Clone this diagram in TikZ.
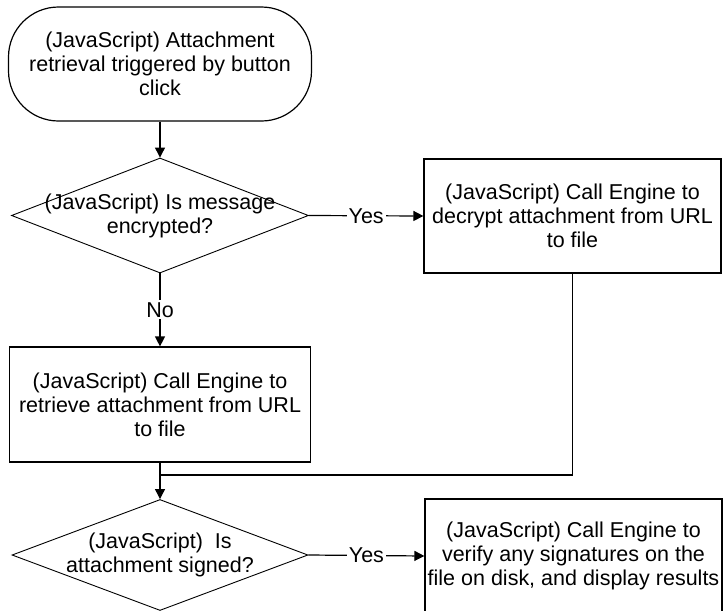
\documentclass[tikz,border=0pt]{standalone}
\usepackage{fontspec}
\setmainfont{Liberation Sans}
\usetikzlibrary{arrows.meta,shapes.geometric}
\begin{document}
\begin{tikzpicture}[x=1pt,y=1pt,
  every node/.style={font=\fontsize{21.5}{24}\selectfont},
  outline/.style={draw, line width=1.2pt},
  termbox/.style={outline, rectangle, rounded corners=50pt, minimum width=303pt,
                  minimum height=114pt, inner sep=0pt, align=center},
  procbox/.style={outline, rectangle, minimum width=297pt, minimum height=114pt,
                  inner sep=0pt, align=center},
  decision/.style={draw, line width=0.9pt, diamond, minimum width=297pt,
                   minimum height=115pt, inner sep=0pt},
  caption/.style={align=center, inner sep=0pt},
  flow/.style={line width=1.2pt, -{Triangle[length=10pt,width=10pt]}},
  joinline/.style={line width=1.2pt},
  branch/.style={fill=white, inner sep=2pt}
]
% page frame
\fill[white] (0,0) rectangle (724,-611);
\useasboundingbox (0,0) rectangle (724,-611);
\clip (0,0) rectangle (724,-611);

% start of the flow
\node[termbox] (start) at (160,-64)
  {(JavaScript) Attachment\\retrieval triggered by button\\click};

% first decision: encryption
\node[decision] (encq) at (160,-215.5) {};
\node[caption] at (encq) {(JavaScript) Is message\\encrypted?};

\node[procbox] (decrypt) at (572.5,-216)
  {(JavaScript) Call Engine to\\decrypt attachment from URL\\to file};

\node[procbox, minimum width=301pt, minimum height=115pt] (fetch) at (160,-404.5)
  {(JavaScript) Call Engine to\\retrieve attachment from URL\\to file};

% second decision: signatures
\node[decision, minimum width=296pt, minimum height=111pt] (sigq) at (160,-555) {};
\node[caption] at (sigq) {(JavaScript)\ \ Is\\attachment signed?};

\node[procbox] (verify) at (573.5,-556)
  {(JavaScript) Call Engine to\\verify any signatures on the\\file on disk, and display results};

% connectors
\coordinate (merge) at (160,-475);
\draw[flow] (start) -- (encq);
\draw[flow] (encq.east) -- node[branch] {Yes} (decrypt.west);
\draw[flow] (encq.south) -- node[branch] {No} (fetch.north);
\draw[joinline] (decrypt.south) |- (merge);
\draw[flow] (fetch.south) -- (sigq.north);
\draw[flow] (sigq.east) -- node[branch] {Yes} (verify.west);
\end{tikzpicture}
\end{document}
